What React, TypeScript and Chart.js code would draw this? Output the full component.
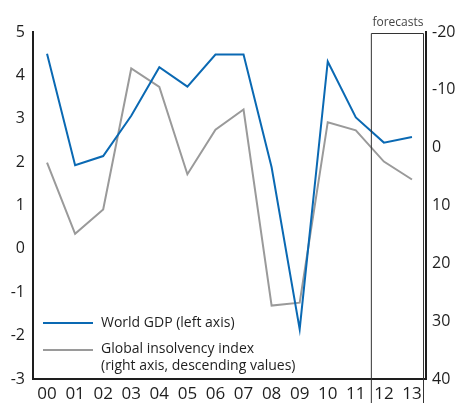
import React, { useEffect, useRef } from "react";
import { Chart, registerables } from "chart.js";

Chart.register(...registerables);

const categories = ["00", "01", "02", "03", "04", "05", "06", "07", "08", "09", "10", "11", "12", "13"];
const worldGdp = [4.5, 1.93, 2.14, 3.07, 4.19, 3.74, 4.48, 4.48, 1.88, -1.85, 4.32, 3.03, 2.45, 2.58];
const insolvencyIndex = [2.6, 14.9, 10.7, -13.7, -10.5, 4.6, -3.1, -6.6, 27.3, 26.8, -4.4, -3.0, 2.4, 5.5];
const forecastCategories = ["12", "13"];
const legendLabels = ["World GDP (left axis)", "Global insolvency index", "(right axis, descending values)"];
const forecastLabel = "forecasts";

const FONT = "'Open Sans', sans-serif";
const BLUE = "#0a69b3";
const GRAY = "#9a9a9a";
const INK = "#1e1e1e";

const overlayPlugin = {
  id: "overlay",
  afterDraw(chart: any) {
    const ctx = chart.ctx;
    const x = chart.scales.x;
    const area = chart.chartArea;
    const firstIdx = categories.indexOf(forecastCategories[0]);
    const lastIdx = categories.indexOf(forecastCategories[forecastCategories.length - 1]);
    const half = (x.getPixelForValue(1) - x.getPixelForValue(0)) / 2;
    const left = x.getPixelForValue(firstIdx) - half + 1;
    const right = Math.min(x.getPixelForValue(lastIdx) + half, area.right) - 3;
    ctx.save();
    ctx.strokeStyle = "#333";
    ctx.lineWidth = 1;
    ctx.beginPath();
    ctx.moveTo(left + 0.5, chart.height);
    ctx.lineTo(left + 0.5, area.top + 1.5);
    ctx.lineTo(right + 0.5, area.top + 1.5);
    ctx.lineTo(right + 0.5, chart.height);
    ctx.stroke();
    ctx.fillStyle = "#444";
    ctx.font = `12px ${FONT}`;
    ctx.textAlign = "center";
    ctx.textBaseline = "alphabetic";
    ctx.fillText(forecastLabel, (left + right) / 2 + 1, area.top - 6);

    // legend
    const lx0 = area.left + 10;
    const lx1 = area.left + 60;
    const tx = area.left + 68;
    ctx.font = `14px ${FONT}`;
    ctx.textAlign = "left";
    ctx.textBaseline = "middle";
    ctx.lineWidth = 2;
    ctx.strokeStyle = BLUE;
    ctx.beginPath();
    ctx.moveTo(lx0, 323);
    ctx.lineTo(lx1, 323);
    ctx.stroke();
    ctx.fillStyle = INK;
    ctx.fillText(legendLabels[0], tx, 323);
    ctx.strokeStyle = GRAY;
    ctx.beginPath();
    ctx.moveTo(lx0, 350);
    ctx.lineTo(lx1, 350);
    ctx.stroke();
    ctx.fillText(legendLabels[1], tx, 349);
    ctx.fillText(legendLabels[2], tx, 366);
    ctx.restore();
  },
};

export default function App() {
  const ref = useRef<HTMLCanvasElement | null>(null);
  useEffect(() => {
    if (!ref.current) return;
    const chart = new Chart(ref.current, {
      type: "line",
      data: {
        labels: categories,
        datasets: [
          {
            label: legendLabels[0],
            data: worldGdp,
            borderColor: BLUE,
            backgroundColor: BLUE,
            borderWidth: 2,
            pointRadius: 0,
            tension: 0,
            yAxisID: "y",
          },
          {
            label: legendLabels[1],
            data: insolvencyIndex,
            borderColor: GRAY,
            backgroundColor: GRAY,
            borderWidth: 2,
            pointRadius: 0,
            tension: 0,
            yAxisID: "y1",
          },
        ],
      },
      options: {
        animation: false,
        responsive: false,
        maintainAspectRatio: false,
        layout: { padding: { top: 32, left: 0, right: 0, bottom: 0 } },
        plugins: { legend: { display: false }, tooltip: { enabled: false } },
        scales: {
          x: {
            offset: true,
            grid: { display: false, drawTicks: false },
            border: { display: true, color: INK, width: 2 },
            ticks: { color: INK, font: { family: FONT, size: 17 }, padding: 5, maxRotation: 0, autoSkip: false },
            afterFit: (s: any) => { s.height = 24; },
          },
          y: {
            position: "left",
            min: -3,
            max: 5,
            grid: { display: false, drawTicks: false },
            border: { display: true, color: INK, width: 2 },
            ticks: { stepSize: 1, color: INK, font: { family: FONT, size: 16 }, padding: 8 },
            afterFit: (s: any) => { s.width = 33; },
          },
          y1: {
            position: "right",
            reverse: true,
            min: -20,
            max: 40,
            grid: { display: false, drawTicks: false },
            border: { display: true, color: INK, width: 2 },
            ticks: { stepSize: 10, color: INK, font: { family: FONT, size: 16 }, padding: 6 },
            afterFit: (s: any) => { s.width = 36; },
          },
        },
      },
      plugins: [overlayPlugin],
    });
    return () => chart.destroy();
  }, []);
  return (
    <div style={{ position: "fixed", left: 0, top: 0, width: 462, height: 403, background: "#fff" }}>
      <canvas ref={ref} width={462} height={403} style={{ display: "block" }} />
    </div>
  );
}
